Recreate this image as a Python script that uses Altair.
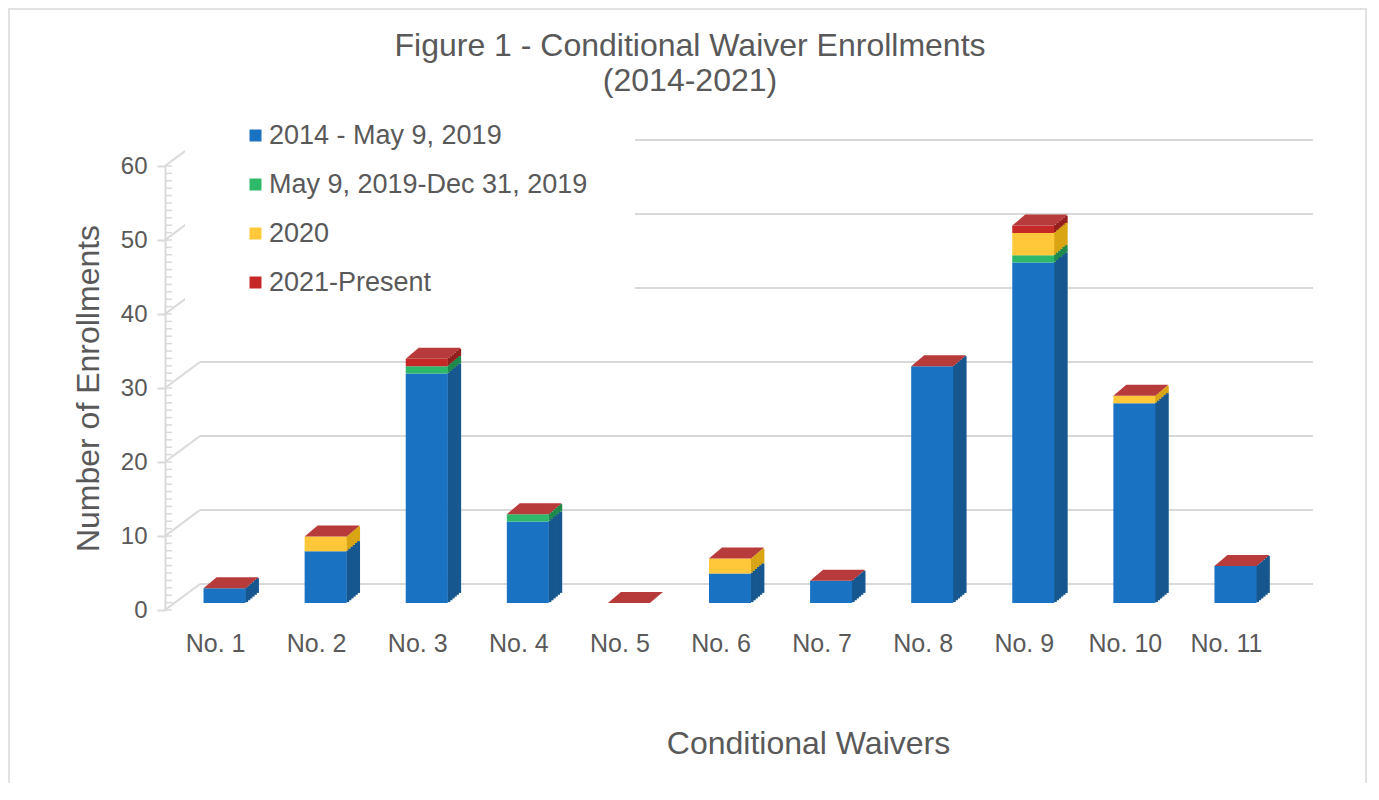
import altair as alt
import pandas as pd

# ---------------- data ----------------
categories = ["No. 1", "No. 2", "No. 3", "No. 4", "No. 5", "No. 6",
              "No. 7", "No. 8", "No. 9", "No. 10", "No. 11"]
series_names = ["2014 - May 9, 2019", "May 9, 2019-Dec 31, 2019", "2020", "2021-Present"]
enroll_2014_may2019 = [2, 7, 31, 11, 0, 4, 3, 32, 46, 27, 5]
enroll_may2019_dec2019 = [0, 0, 1, 1, 0, 0, 0, 0, 1, 0, 0]
enroll_2020 = [0, 2, 0, 0, 0, 2, 0, 0, 3, 1, 0]
enroll_2021_present = [0, 0, 1, 0, 0, 0, 0, 0, 1, 0, 0]
y_tick_values = [0, 10, 20, 30, 40, 50, 60]
minor_tick_values = list(range(0, 61))
title_lines = ["Figure 1 - Conditional Waiver Enrollments", "(2014-2021)"]

rows = []
for s_idx, (name, vals) in enumerate(zip(series_names, [enroll_2014_may2019, enroll_may2019_dec2019,
                                                         enroll_2020, enroll_2021_present])):
    for cat, v in zip(categories, vals):
        rows.append({"category": cat, "series": name, "order": s_idx, "value": v})
df = pd.DataFrame(rows)
grid_df = pd.DataFrame({"v": y_tick_values})
minor_df = pd.DataFrame({"m": minor_tick_values})
one_df = pd.DataFrame({"a": [0]})

# ---------------- style ----------------
W, H = 1112, 444
FONT = "Liberation Sans"
TEXT = "#595959"
GRID = "#d9d9d9"
FRONT_COLORS = ["#1A72C2", "#2DB86A", "#FFC83A", "#C62828"]
SIDE_COLORS = ["#17578F", "#1E8A4C", "#D9A514", "#951F1F"]
CAP_COLOR = "#B83B3B"
FRONT_DX, FRONT_DY = 9, -7
BAR_W = 42
DEPTH_X, DEPTH_Y = 13, 11
WALL_DX, WALL_DY = 35, 26
N_STRIPS = 6

y_axis = alt.Axis(values=y_tick_values, title="Number of Enrollments", grid=False,
                  domainColor=GRID, domainWidth=2, tickColor=GRID, tickWidth=2, tickSize=8,
                  labelPadding=10, labelFontSize=24, labelColor=TEXT, labelFont=FONT,
                  titleFont=FONT, titleFontSize=32, titleColor=TEXT, titleFontWeight="normal",
                  titleAngle=270, titleAlign="center", titleBaseline="alphabetic",
                  titleX=-67, titleY=222)
x_axis = alt.Axis(title="Conditional Waivers", labelAngle=0, domain=False, ticks=False, tickSize=0,
                  grid=False, labelPadding=21, labelFontSize=25, labelColor=TEXT, labelFont=FONT,
                  titleFont=FONT, titleFontSize=32, titleColor=TEXT, titleFontWeight="normal",
                  titleX=643, titleY=143, titleAlign="center", titleBaseline="alphabetic")
y_scale = alt.Scale(domain=[0, 60], nice=False, zero=True)
x_enc = alt.X("category:N", sort=categories, scale=alt.Scale(paddingInner=0, paddingOuter=0), axis=x_axis)

# border of chart area
border = alt.Chart(one_df).mark_rect(fillOpacity=0, stroke=GRID, strokeWidth=1.5).encode(
    x=alt.value(-156), x2=alt.value(W + 89), y=alt.value(-157), y2=alt.value(H + 300))

# chart title (two lines)
title1 = alt.Chart(one_df).mark_text(text=title_lines[0], font=FONT, fontSize=32, color=TEXT,
                                     align="center", baseline="alphabetic").encode(
    x=alt.value(525), y=alt.value(-110))
title2 = alt.Chart(one_df).mark_text(text=title_lines[1], font=FONT, fontSize=32, color=TEXT,
                                     align="center", baseline="alphabetic").encode(
    x=alt.value(525), y=alt.value(-75))

# back-wall gridlines
gridlines = alt.Chart(grid_df).mark_rule(color=GRID, strokeWidth=2, yOffset=-WALL_DY).encode(
    y=alt.Y("v:Q", scale=y_scale, axis=y_axis), x=alt.value(WALL_DX), x2=alt.value(W + WALL_DX + 1))

# diagonal floor/wall connectors
diagonals = alt.Chart(grid_df).mark_rule(color=GRID, strokeWidth=2, y2Offset=-WALL_DY).encode(
    y=alt.Y("v:Q", scale=y_scale, axis=y_axis), y2=alt.Y2("v:Q"), x=alt.value(0), x2=alt.value(WALL_DX))

# minor ticks on the front axis
minor = alt.Chart(minor_df).mark_rule(color=GRID, strokeWidth=1.5).encode(
    y=alt.Y("m:Q", scale=y_scale, axis=y_axis), x=alt.value(0), x2=alt.value(7))

# legend background box
legend_box = alt.Chart(one_df).mark_rect(color="white").encode(
    x=alt.value(20), x2=alt.value(470), y=alt.value(-66), y2=alt.value(136))

# side faces (stepped strips)
sides = []
for i in range(N_STRIPS):
    t = (i + 0.5) / N_STRIPS
    dx = FRONT_DX + BAR_W / 2 + DEPTH_X * t
    dy = FRONT_DY - DEPTH_Y * t
    sides.append(
        alt.Chart(df).mark_bar(size=DEPTH_X / N_STRIPS + 0.8, xOffset=dx, yOffset=dy, y2Offset=dy).encode(
            x=x_enc,
            y=alt.Y("value:Q", stack="zero", scale=y_scale, axis=y_axis),
            color=alt.Color("series:N", scale=alt.Scale(domain=series_names, range=SIDE_COLORS), legend=None),
            order=alt.Order("order:Q"),
        )
    )

front = alt.Chart(df).mark_bar(size=BAR_W, xOffset=FRONT_DX, yOffset=FRONT_DY, y2Offset=FRONT_DY).encode(
    x=x_enc,
    y=alt.Y("value:Q", stack="zero", scale=y_scale, axis=y_axis),
    color=alt.Color("series:N", sort=series_names,
                    scale=alt.Scale(domain=series_names, range=FRONT_COLORS),
                    legend=alt.Legend(title=None, orient="none", legendX=77, legendY=-44, padding=0,
                                      symbolType="square", symbolSize=144, symbolStrokeWidth=0,
                                      labelFontSize=27, labelFont=FONT, labelColor=TEXT, labelOffset=0,
                                      rowPadding=21, labelLimit=600)),
    order=alt.Order("order:Q"),
)

cap_path = "M -21 0 L 21 0 L 34 -11 L -8 -11 Z"
cap = alt.Chart(df).transform_aggregate(total="sum(value)", groupby=["category"]).mark_point(
    shape=cap_path, size=4, filled=True, opacity=1, strokeWidth=0, color=CAP_COLOR,
    xOffset=FRONT_DX, yOffset=FRONT_DY).encode(
    x=x_enc,
    y=alt.Y("total:Q", scale=y_scale, axis=y_axis),
)

chart = alt.layer(border, title1, title2, gridlines, diagonals, minor, legend_box, *sides, front, cap).resolve_scale(
    color="independent"
).properties(
    width=W, height=H,
    padding={"left": 157, "top": 158, "right": 91, "bottom": 173},
    autosize=alt.AutoSizeParams(type="none"),
).configure_view(stroke=None)

chart.save("out.html", embed_options={"renderer": "svg", "actions": False})
